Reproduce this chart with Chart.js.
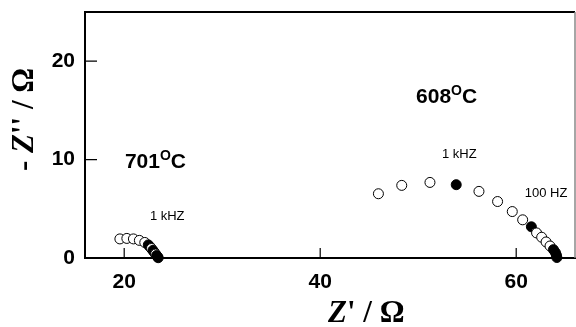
<!DOCTYPE html>
<html>
<head>
<meta charset="utf-8">
<script src="https://cdn.jsdelivr.net/npm/chart.js@4"></script>
<style>
  html, body { margin: 0; padding: 0; background: #fff; }
  #wrap { width: 576px; height: 327px; }
</style>
</head>
<body>
<div id="wrap"><canvas id="nyquist"></canvas></div>
<script>
// 701 C arc (Z', -Z'')
const re701 = [19.56, 20.27, 20.94, 21.55, 22.1, 22.46, 22.62, 22.78, 22.93, 23.07, 23.2, 23.31, 23.4, 23.47];
const im701 = [1.94, 1.99, 1.94, 1.79, 1.58, 1.33, 1.15, 0.96, 0.77, 0.58, 0.4, 0.25, 0.12, 0.03];
const filled701 = [0, 0, 0, 0, 0, 1, 1, 0, 1, 1, 0, 1, 1, 1];

// 608 C arc
const re608 = [45.94, 48.32, 51.2, 53.88, 56.2, 58.1, 59.6, 60.66, 61.55, 62.08, 62.6, 63.05, 63.45, 63.8, 64.0, 64.1, 64.15];
const im608 = [6.53, 7.38, 7.68, 7.45, 6.77, 5.74, 4.72, 3.88, 3.17, 2.55, 2.11, 1.63, 1.22, 0.85, 0.55, 0.3, 0.05];
const filled608 = [0, 0, 0, 1, 0, 0, 0, 0, 1, 0, 0, 0, 0, 1, 1, 1, 1];

const xTicks = [20, 40, 60];
const yTicks = [0, 10, 20];

// text labels placed in data units
const notes = [
  { x: 20.07, y: 9.18, parts: [['701', 'bold 21px "Liberation Sans"', 0], ['O', 'bold 14px "Liberation Sans"', -8], ['C', 'bold 21px "Liberation Sans"', 0]] },
  { x: 49.78, y: 15.8, parts: [['608', 'bold 21px "Liberation Sans"', 0], ['O', 'bold 14px "Liberation Sans"', -8], ['C', 'bold 21px "Liberation Sans"', 0]] },
  { x: 22.62, y: 3.88, parts: [['1 kHZ', '13px "Liberation Sans"', 0]] },
  { x: 52.42, y: 10.2, parts: [['1 kHZ', '13px "Liberation Sans"', 0]] },
  { x: 60.87, y: 6.22, parts: [['100 HZ', '13px "Liberation Sans"', 0]] }
];

function toPoints(xs, ys) {
  return xs.map((x, i) => ({ x: x, y: ys[i] }));
}

function drawParts(ctx, parts, x, y) {
  parts.forEach(p => {
    ctx.font = p[1];
    ctx.fillText(p[0], x, y + p[2]);
    x += ctx.measureText(p[0]).width;
  });
}

function noPad(s) {
  s.paddingTop = 0;
  s.paddingBottom = 0;
  s.paddingLeft = 0;
  s.paddingRight = 0;
}

const framePlugin = {
  id: 'frame',
  afterDraw(chart) {
    const ctx = chart.ctx;
    const a = chart.chartArea;
    const xs = chart.scales.x, ys = chart.scales.y;
    ctx.save();
    // top and right edges
    ctx.strokeStyle = '#000';
    ctx.lineWidth = 2;
    ctx.beginPath();
    ctx.moveTo(a.left, a.top);
    ctx.lineTo(a.right, a.top);
    ctx.stroke();
    ctx.strokeStyle = '#888';
    ctx.lineWidth = 1.5;
    ctx.beginPath();
    ctx.moveTo(a.right, a.top);
    ctx.lineTo(a.right, a.bottom);
    ctx.stroke();
    // inward ticks
    ctx.strokeStyle = '#000';
    ctx.lineWidth = 1.2;
    ctx.beginPath();
    xTicks.forEach(v => {
      const px = xs.getPixelForValue(v);
      ctx.moveTo(px, a.bottom);
      ctx.lineTo(px, a.bottom - 10);
    });
    yTicks.forEach(v => {
      const py = ys.getPixelForValue(v);
      ctx.moveTo(a.left, py);
      ctx.lineTo(a.left + 12, py);
    });
    ctx.stroke();

    // notes
    ctx.fillStyle = '#000';
    ctx.textBaseline = 'alphabetic';
    ctx.textAlign = 'left';
    notes.forEach(n => {
      drawParts(ctx, n.parts, xs.getPixelForValue(n.x), ys.getPixelForValue(n.y));
    });

    // axis titles
    const titleX = [['Z', 'italic bold 31px "Liberation Serif"', 0], ["' / \u03A9", 'bold 31px "Liberation Serif"', 0]];
    drawParts(ctx, titleX, 328, 322);
    ctx.translate(33, 171);
    ctx.rotate(-Math.PI / 2);
    const titleY = [['- ', 'bold 31px "Liberation Serif"', 0], ['Z', 'italic bold 31px "Liberation Serif"', 0], ["'' / \u03A9", 'bold 31px "Liberation Serif"', 0]];
    drawParts(ctx, titleY, 0, 0);
    ctx.restore();
  }
};

function dataset(xs, ys, flags) {
  return {
    data: toPoints(xs, ys),
    showLine: false,
    clip: false,
    pointRadius: 5,
    pointHoverRadius: 5,
    pointBorderWidth: 1,
    pointBorderColor: '#000',
    pointBackgroundColor: flags.map(f => f ? '#000' : '#fff')
  };
}

const ctx = document.getElementById('nyquist').getContext('2d');
new Chart(ctx, {
  type: 'scatter',
  data: {
    datasets: [dataset(re701, im701, filled701), dataset(re608, im608, filled608)]
  },
  options: {
    responsive: true,
    maintainAspectRatio: false,
    animation: false,
    layout: { autoPadding: false, padding: { top: 12, right: 1, left: 0, bottom: 0 } },
    plugins: { legend: { display: false }, tooltip: { enabled: false } },
    scales: {
      x: {
        type: 'linear',
        min: 16,
        max: 66,
        afterBuildTicks: s => { s.ticks = xTicks.map(v => ({ value: v })); },
        afterFit: s => { s.height = 69; noPad(s); },
        grid: { display: true, drawOnChartArea: false, drawTicks: false },
        border: { display: true, color: '#000', width: 2 },
        ticks: { padding: 12, color: '#000', font: { family: 'Liberation Sans', size: 21, weight: 'bold' } }
      },
      y: {
        type: 'linear',
        min: 0,
        max: 25,
        afterBuildTicks: s => { s.ticks = yTicks.map(v => ({ value: v })); },
        afterFit: s => { s.width = 85; noPad(s); },
        grid: { display: true, drawOnChartArea: false, drawTicks: false },
        border: { display: true, color: '#000', width: 2 },
        ticks: { padding: 10, color: '#000', font: { family: 'Liberation Sans', size: 21, weight: 'bold' } }
      }
    }
  },
  plugins: [framePlugin]
});
</script>
</body>
</html>
